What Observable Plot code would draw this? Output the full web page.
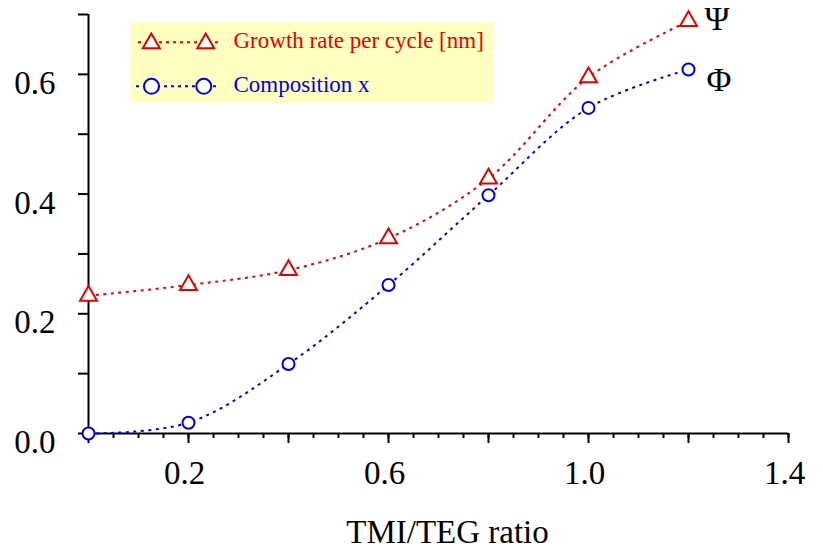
<!DOCTYPE html>
<html>
<head>
<meta charset="utf-8">
<script src="https://cdn.jsdelivr.net/npm/d3@7"></script>
<script src="https://cdn.jsdelivr.net/npm/@observablehq/plot@0.6"></script>
<style>
  html, body { margin: 0; padding: 0; background: #ffffff; }
  #chart { width: 823px; height: 555px; }
</style>
</head>
<body>
<div id="chart"></div>
<script>
// ---- data ----
const ratios = [0, 0.2, 0.4, 0.6, 0.8, 1.0, 1.2];
const growthRate = [0.230, 0.248, 0.273, 0.326, 0.426, 0.595, 0.689];
const composition = [0.000, 0.018, 0.116, 0.248, 0.398, 0.544, 0.608];
const seriesNames = ["Growth rate per cycle [nm]", "Composition x"];
const seriesSymbols = ["Ψ", "Φ"];
const xTitle = "TMI/TEG ratio";
const xDomain = [0, 1.4];
const yDomain = [0, 0.7];
const xMinorTicks = [0, 0.05, 0.1, 0.15, 0.2, 0.25, 0.3, 0.35, 0.4, 0.45, 0.5, 0.55, 0.6, 0.65, 0.7,
                     0.75, 0.8, 0.85, 0.9, 0.95, 1.0, 1.05, 1.1, 1.15, 1.2, 1.25, 1.3, 1.35, 1.4];
const xMajorTicks = [0, 0.2, 0.4, 0.6, 0.8, 1.0, 1.2, 1.4];
const xLabelTicks = [0.2, 0.6, 1.0, 1.4];
const yTicks = [0, 0.1, 0.2, 0.3, 0.4, 0.5, 0.6, 0.7];
const yLabelTicks = [0, 0.2, 0.4, 0.6];

const RED = "#e60000";
const BLUE = "#0000e6";
const LEGEND_BG = "#ffffc2";

const rows = ratios.map((x, i) => ({x, growth: growthRate[i], comp: composition[i]}));
const last = [rows[rows.length - 1]];
const fmt = d3.format(".1f");
const noText = () => "";

const chart = Plot.plot({
  width: 823,
  height: 555,
  marginLeft: 88,
  marginRight: 35,
  marginTop: 14,
  marginBottom: 122,
  x: {domain: xDomain},
  y: {domain: yDomain},
  style: {fontFamily: "'Liberation Serif', 'Times New Roman', serif", background: "#ffffff", color: "#000"},
  marks: [
    // legend box
    Plot.frame({fill: LEGEND_BG, stroke: "none", insetLeft: 42, insetTop: 8, insetRight: 295, insetBottom: 331}),
    Plot.ruleY([yDomain[1]], {dy: 27.7, insetLeft: 50, insetRight: 570, stroke: RED, strokeWidth: 2, strokeDasharray: "3,4"}),
    Plot.ruleY([yDomain[1]], {dy: 71.7, insetLeft: 48, insetRight: 571, stroke: BLUE, strokeWidth: 2, strokeDasharray: "3,4"}),
    Plot.dot([0], {frameAnchor: "top-left", dx: 62.8, dy: 28.9, symbol: "triangle", r: 6.3, stroke: RED, fill: "white", strokeWidth: 2}),
    Plot.dot([0], {frameAnchor: "top-left", dx: 117.2, dy: 28.9, symbol: "triangle", r: 6.3, stroke: RED, fill: "white", strokeWidth: 2}),
    Plot.dot([0], {frameAnchor: "top-left", dx: 63, dy: 71.8, symbol: "circle", r: 7.5, stroke: BLUE, fill: "white", strokeWidth: 2}),
    Plot.dot([0], {frameAnchor: "top-left", dx: 115.3, dy: 71.8, symbol: "circle", r: 7.5, stroke: BLUE, fill: "white", strokeWidth: 2}),
    Plot.text([seriesNames[0]], {frameAnchor: "top-left", dx: 145, dy: 33.3, lineAnchor: "bottom", textAnchor: "start", fill: RED, fontSize: 23}),
    Plot.text([seriesNames[1]], {frameAnchor: "top-left", dx: 145, dy: 77, lineAnchor: "bottom", textAnchor: "start", fill: BLUE, fontSize: 23}),

    // axes
    Plot.axisY({ticks: yTicks, tickSize: 10, tickFormat: noText, strokeWidth: 2, label: null}),
    Plot.axisY({ticks: yLabelTicks, tickSize: 0, tickPadding: 33, tickFormat: fmt, fontSize: 33, dy: 9, label: null}),
    Plot.axisX({ticks: xMinorTicks, tickSize: 5, tickFormat: noText, strokeWidth: 2, label: null}),
    Plot.axisX({ticks: xMajorTicks, tickSize: 10, tickFormat: noText, strokeWidth: 2, label: null}),
    Plot.axisX({ticks: xLabelTicks, tickSize: 0, tickPadding: 27, tickFormat: fmt, fontSize: 33, dx: -4, label: null}),
    Plot.ruleX([xDomain[0]], {strokeWidth: 2}),
    Plot.ruleY([yDomain[0]], {strokeWidth: 2}),
    Plot.text([xTitle], {frameAnchor: "bottom", dx: 9, dy: 109, lineAnchor: "bottom", fontSize: 33}),

    // series
    Plot.line(rows, {x: "x", y: "growth", curve: "catmull-rom", stroke: RED, strokeWidth: 2, strokeDasharray: "3,4.5", strokeLinecap: "butt"}),
    Plot.line(rows, {x: "x", y: "comp", curve: "catmull-rom", stroke: BLUE, strokeWidth: 2, strokeDasharray: "3,4.5", strokeLinecap: "butt"}),
    Plot.dot(rows, {x: "x", y: "growth", symbol: "triangle", r: 6.3, stroke: RED, fill: "white", strokeWidth: 2}),
    Plot.dot(rows, {x: "x", y: "comp", symbol: "circle", r: 6, stroke: BLUE, fill: "white", strokeWidth: 2}),
    Plot.text(last, {x: "x", y: "growth", text: () => seriesSymbols[0], dx: 16, dy: 9, textAnchor: "start", lineAnchor: "bottom", fontSize: 34, fill: "#000"}),
    Plot.text(last, {x: "x", y: "comp", text: () => seriesSymbols[1], dx: 18, dy: 21, textAnchor: "start", lineAnchor: "bottom", fontSize: 34, fill: "#000"})
  ]
});
document.getElementById("chart").appendChild(chart);
</script>
</body>
</html>
